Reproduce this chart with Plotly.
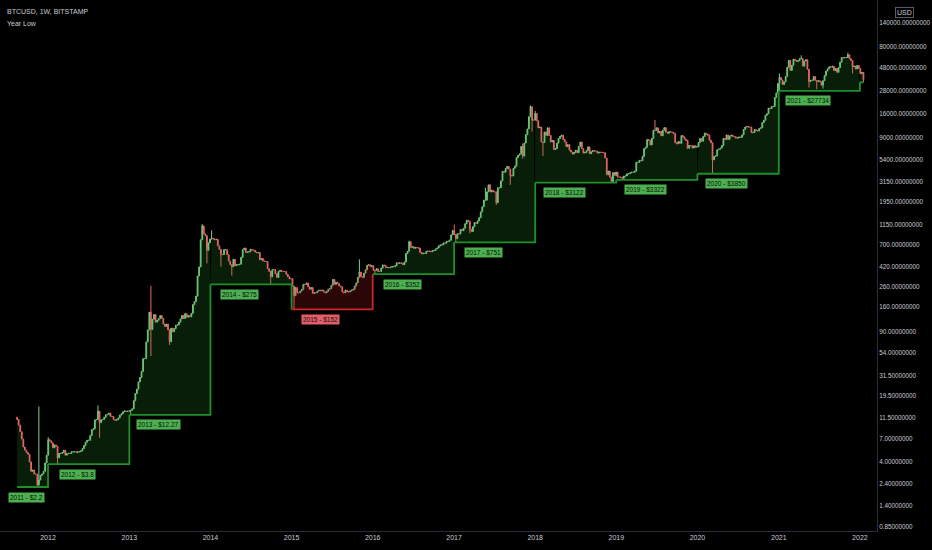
import numpy as np
import pandas as pd
import plotly.graph_objects as go

# BTCUSD weekly closes (Bitstamp), one list per calendar year, weeks start on Monday
close_2011 = [11.0, 9.6, 8.2, 6.9, 5.7, 5.3, 5.0, 4.8, 4.0, 3.2, 3.3, 3.0, 3.0, 2.3, 2.6, 2.9, 3.0, 3.2, 3.9, 4.7]
close_2012 = [6.8, 6.6, 6.3, 5.6, 6.0, 5.8, 4.4, 4.9, 4.9, 5.0, 5.3, 4.7, 4.9, 4.9, 4.9, 5.1, 5.1, 5.1,
              5.0, 5.1, 5.1, 5.2, 5.5, 5.9, 6.4, 6.7, 6.7, 7.5, 8.6, 8.8, 10.9, 11.0, 13.4, 10.2, 10.9,
              11.0, 11.6, 12.3, 12.4, 12.8, 11.9, 11.8, 11.0, 10.8, 10.9, 11.4, 12.2, 12.6, 13.2, 13.5,
              13.3, 13.4, 13.5]
close_2013 = [13.7, 14.2, 17.2, 20.4, 22.6, 26.9, 29.9, 34.5, 46.9, 46.9, 69.9, 93.0, 142, 94, 120, 134,
              112, 117, 122, 131, 122, 107, 101, 107, 93, 70, 97, 89, 96, 104, 105, 112, 121, 131, 122,
              137, 126, 131, 127, 138, 170, 182, 208, 336, 417, 797, 1110, 918, 880, 620, 742, 810]
close_2014 = [830, 815, 800, 805, 690, 635, 560, 560, 630, 630, 560, 480, 440, 420, 500, 430, 440, 440,
              445, 525, 630, 655, 590, 595, 600, 635, 625, 620, 595, 585, 590, 495, 510, 480, 478, 475,
              400, 375, 330, 390, 390, 355, 325, 375, 385, 375, 375, 375, 350, 330, 315, 315]
close_2015 = [265, 210, 255, 225, 225, 235, 245, 275, 275, 285, 260, 245, 255, 222, 225, 225, 235, 240,
              237, 240, 230, 225, 233, 245, 250, 270, 310, 275, 290, 280, 265, 260, 230, 225, 240, 230,
              230, 235, 240, 245, 265, 285, 325, 370, 330, 325, 360, 390, 435, 440, 420, 430]
close_2016 = [385, 385, 400, 375, 375, 405, 438, 430, 410, 412, 410, 415, 420, 420, 430, 460, 455, 460,
              455, 440, 470, 575, 605, 760, 665, 675, 650, 665, 660, 655, 590, 570, 580, 575, 605, 610,
              608, 600, 615, 618, 640, 655, 690, 705, 705, 740, 735, 765, 770, 790, 895, 995]
close_2017 = [905, 820, 920, 915, 1020, 990, 1050, 1170, 1270, 1240, 1020, 970, 1090, 1200, 1180, 1250,
              1350, 1550, 1750, 2050, 2050, 2500, 2950, 2500, 2600, 2500, 2500, 1930, 2750, 2760, 3250,
              4080, 4000, 4350, 4580, 4300, 3700, 3650, 4380, 4610, 5650, 5980, 6150, 7380, 5860, 8000,
              9750, 11200, 15000, 19000, 13800, 13800]
close_2018 = [16200, 13600, 11500, 11700, 8200, 8100, 10400, 9600, 11500, 9600, 8200, 8500, 6850, 7000,
              8000, 8900, 9400, 9650, 8700, 8200, 7350, 7700, 6750, 6450, 6150, 6400, 6750, 6350, 7400,
              8200, 7000, 6300, 6400, 6700, 7300, 6200, 6500, 6700, 6600, 6600, 6300, 6450, 6400, 6400,
              6350, 5600, 3750, 4100, 3550, 3200, 3950, 3700, 4000]
close_2019 = [3550, 3550, 3550, 3450, 3650, 3650, 3850, 3850, 3930, 3990, 3990, 4090, 5050, 5050, 5300,
              5250, 5800, 7000, 7250, 8700, 8550, 7650, 8950, 10850, 10800, 11500, 10200, 10550, 9500,
              10850, 11550, 10350, 10100, 10500, 10400, 10300, 10050, 8050, 7850, 8300, 7950, 9550, 9250,
              8800, 8500, 7050, 7550, 7500, 7100, 7500, 7250, 7350]
close_2020 = [8100, 8900, 8350, 9350, 10150, 9900, 9650, 8550, 8050, 5350, 5800, 5900, 6800, 6900, 7100,
              7550, 8900, 8700, 9700, 8700, 9450, 9650, 9350, 9300, 9000, 9050, 9250, 9150, 9700, 11050,
              11700, 11900, 11700, 11700, 10250, 10300, 11050, 10750, 10650, 11350, 11500, 13050, 13800,
              15500, 16050, 18400, 18200, 19150, 19150, 23700, 26400, 33000]
close_2021 = [38200, 36000, 32300, 34300, 39000, 48600, 57500, 45200, 51000, 59000, 57500, 55800, 57000,
              59800, 60000, 50000, 56600, 58200, 46400, 34700, 35700, 35800, 39100, 35600, 34700, 35300,
              34300, 31800, 35400, 39900, 44600, 47000, 49300, 48800, 49900, 45000, 47300, 43200, 48200,
              54900, 61500, 60900, 61300, 61500, 65500, 59700, 57200, 49400, 50100, 46700, 50800, 47300]
close_2022 = [41800, 43100, 36300]
first_open = 11.6
first_week = "2011-08-15"

# weeks whose wicks reach beyond the candle body
low_wick_weeks = ["2011-11-14", "2012-02-13", "2012-08-20", "2013-01-07", "2013-04-08", "2013-07-01",
                  "2013-12-16", "2014-02-17", "2014-04-07", "2014-09-29", "2015-01-12", "2016-01-11",
                  "2017-01-09", "2017-03-13", "2017-07-10", "2017-09-11", "2017-11-06", "2017-12-18",
                  "2018-02-05", "2018-12-10", "2019-01-28", "2020-03-09", "2021-01-04", "2021-05-17",
                  "2021-06-21", "2021-07-19", "2021-11-29", "2022-01-17"]
low_wick_values = [2.2, 3.8, 7.1, 12.27, 50, 65, 455, 420, 340, 275, 152, 352, 751, 930, 1830, 2950,
                   5500, 10500, 5900, 3122, 3322, 3850, 27734, 30000, 28800, 29300, 42000, 34000]
high_wick_weeks = ["2011-11-21", "2012-01-02", "2012-08-13", "2013-04-08", "2013-11-25", "2014-01-06",
                   "2015-11-02", "2016-06-13", "2017-01-02", "2017-05-22", "2017-06-12", "2017-11-06",
                   "2017-12-11", "2018-01-01", "2019-06-24", "2021-01-04", "2021-04-12", "2021-11-08"]
high_wick_values = [15, 7.2, 15.4, 266, 1160, 1000, 500, 780, 1150, 2760, 3000, 7900, 19666, 17200,
                    13880, 41900, 64800, 69000]

years = list(range(2011, 2023))
year_lows = [2.2, 3.8, 12.27, 275, 152, 352, 751, 3122, 3322, 3850, 27734, 34000]
label_text = ["2011 - $2.2", "2012 - $3.8", "2013 - $12.27", "2014 - $275", "2015 - $152",
              "2016 - $352", "2017 - $751", "2018 - $3122", "2019 - $3322", "2020 - $3850",
              "2021 - $27734"]
y_ticks = [240000, 140000, 80000, 48000, 28000, 16000, 9000, 5400, 3150, 1950, 1150, 700, 420, 260,
           160, 90, 54, 31.5, 19.5, 11.5, 7, 4, 2.4, 1.4, 0.85]
x_tick_years = list(range(2012, 2023))

yearly = [close_2011, close_2012, close_2013, close_2014, close_2015, close_2016, close_2017,
          close_2018, close_2019, close_2020, close_2021, close_2022]
closes = [c for lst in yearly for c in lst]
weeks = pd.date_range(first_week, periods=len(closes), freq="W-MON")
df = pd.DataFrame({"close": closes}, index=weeks)
df["open"] = [first_open] + closes[:-1]
df["high"] = df[["open", "close"]].max(axis=1)
df["low"] = df[["open", "close"]].min(axis=1)
df.loc[pd.to_datetime(low_wick_weeks), "low"] = low_wick_values
df.loc[pd.to_datetime(high_wick_weeks), "high"] = high_wick_values

GREEN_LINE = "#1f8f2a"
RED_LINE = "#c62828"
TEXT = "#c9ccd4"
FONT = "Liberation Sans, Arial, sans-serif"

fig = go.Figure()

# shaded area between each year's low and the weekly close
for i, yr in enumerate(years):
    sub = df[df.index.year == yr]
    start = weeks[0] if yr == 2011 else pd.Timestamp(f"{yr}-01-01")
    end = weeks[-1] if yr == 2022 else pd.Timestamp(f"{yr + 1}-01-01")
    red = i > 0 and year_lows[i] < year_lows[i - 1]
    fig.add_trace(go.Scatter(x=[start, end], y=[year_lows[i]] * 2, mode="lines",
                             line=dict(width=0), hoverinfo="skip", showlegend=False))
    fig.add_trace(go.Scatter(x=sub.index, y=sub["close"], mode="lines", line=dict(width=0),
                             fill="tonexty",
                             fillcolor="rgba(170,25,25,0.25)" if red else "rgba(40,150,40,0.2)",
                             hoverinfo="skip", showlegend=False))

# year-low step line, coloured per year
for i, yr in enumerate(years):
    start = weeks[0] if yr == 2011 else pd.Timestamp(f"{yr}-01-01")
    red = i > 0 and year_lows[i] < year_lows[i - 1]
    if yr == 2022:
        xs, ys = [start, weeks[-1]], [year_lows[i]] * 2
    else:
        end = pd.Timestamp(f"{yr + 1}-01-01")
        xs, ys = [start, end, end], [year_lows[i], year_lows[i], year_lows[i + 1]]
    fig.add_trace(go.Scatter(x=xs, y=ys, mode="lines",
                             line=dict(color=RED_LINE if red else GREEN_LINE, width=1.8),
                             hoverinfo="skip", showlegend=False))

fig.add_trace(go.Candlestick(
    x=df.index, open=df["open"], high=df["high"], low=df["low"], close=df["close"],
    increasing=dict(line=dict(color="#7dcf8b", width=1), fillcolor="#7dcf8b"),
    decreasing=dict(line=dict(color="#e8676a", width=1), fillcolor="#e8676a"),
    whiskerwidth=0, showlegend=False))

# year low labels
for i, txt in enumerate(label_text):
    yr = years[i]
    red = i > 0 and year_lows[i] < year_lows[i - 1]
    fig.add_annotation(x="2011-09-28" if yr == 2011 else f"{yr}-05-12", y=np.log10(year_lows[i]),
                       text=txt, showarrow=False, yshift=-10,
                       font=dict(family=FONT, size=6.5, color="#081208"),
                       bgcolor="#e35d6a" if red else "#4caf50", borderpad=1)

fig.add_annotation(xref="paper", yref="paper", x=0.006, y=0.979, xanchor="left", yanchor="middle",
                   text="BTCUSD, 1W, BITSTAMP", showarrow=False,
                   font=dict(family=FONT, size=7, color=TEXT))
fig.add_annotation(xref="paper", yref="paper", x=0.006, y=0.956, xanchor="left", yanchor="middle",
                   text="Year Low", showarrow=False,
                   font=dict(family=FONT, size=7, color=TEXT))
fig.add_annotation(xref="paper", yref="paper", x=1.031, y=0.977, xanchor="center", yanchor="middle",
                   text="USD", showarrow=False, bordercolor="#555a66",
                   borderwidth=1, borderpad=1, font=dict(family=FONT, size=7, color=TEXT))

fig.update_layout(
    width=932, height=550,
    margin=dict(l=0, r=55, t=0, b=19),
    paper_bgcolor="#000000", plot_bgcolor="#000000",
    showlegend=False, hovermode=False,
    xaxis=dict(
        range=["2011-05-30", "2022-03-19"], rangeslider=dict(visible=False),
        tickvals=[pd.Timestamp(f"{y}-01-01") for y in x_tick_years],
        ticktext=[str(y) for y in x_tick_years],
        showgrid=False, zeroline=False, showline=True, linecolor="#2a2d35", linewidth=1,
        ticks="", tickfont=dict(family=FONT, size=7, color=TEXT),
    ),
    yaxis=dict(
        type="log", range=[-0.113, 5.384], side="right",
        tickvals=y_ticks, ticktext=[f"{v:.8f}" for v in y_ticks],
        showgrid=False, zeroline=False, showline=True, linecolor="#2a2d35", linewidth=1,
        ticks="", tickfont=dict(family=FONT, size=6.3, color=TEXT),
    ),
)

fig.write_html("out.html", config={"displayModeBar": False},
               post_script="document.body.style.margin='0px';")
